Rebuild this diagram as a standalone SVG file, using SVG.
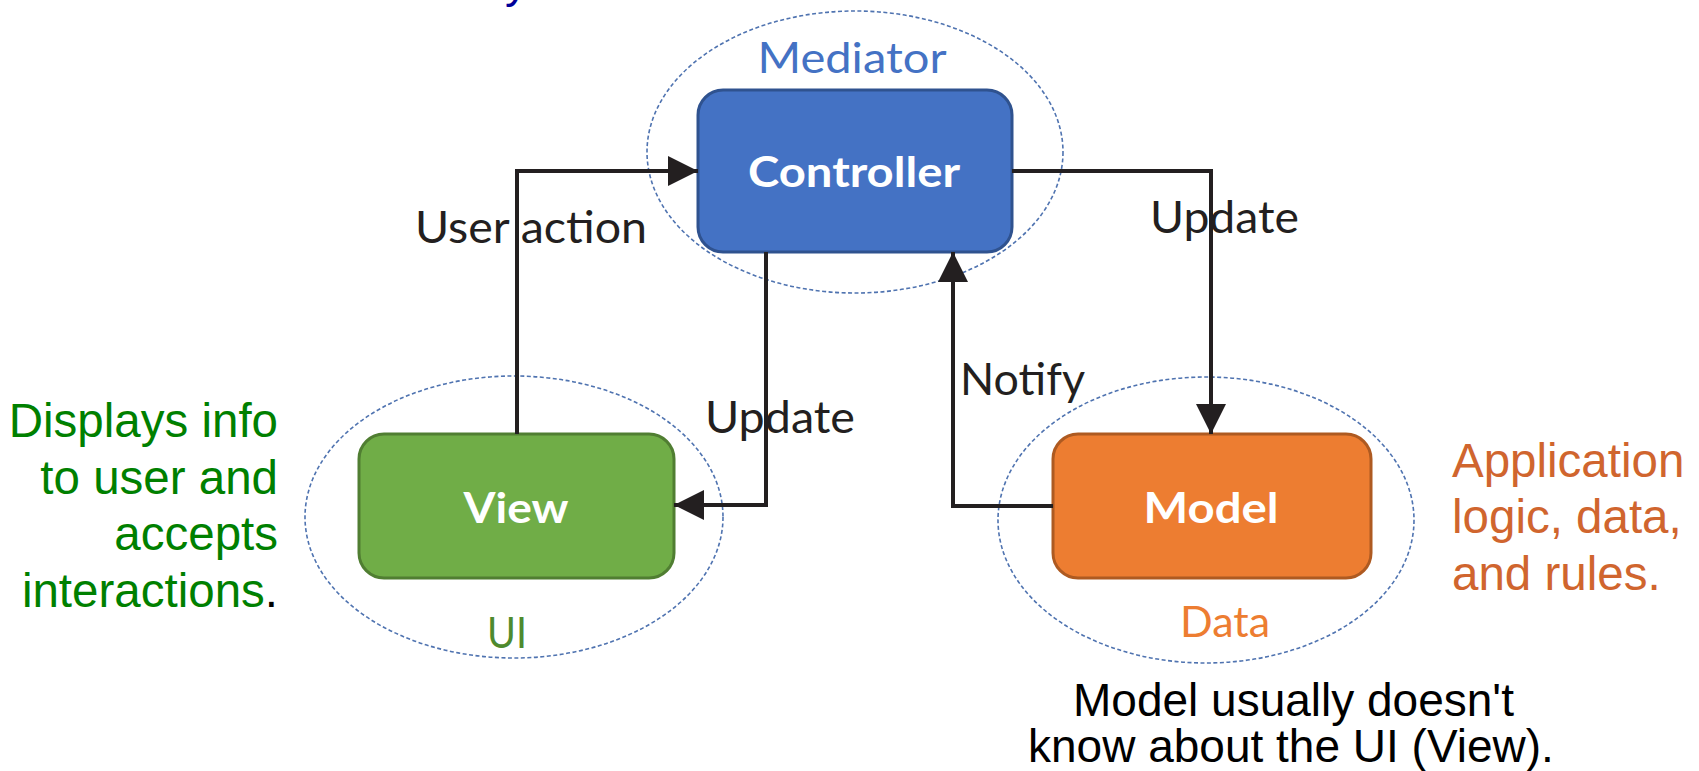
<svg xmlns="http://www.w3.org/2000/svg" width="1699" height="771" viewBox="0 0 1699 771">
  <style>
    .zone { fill: none; stroke: #4F73B0; stroke-width: 1.6; stroke-dasharray: 4 2.5; }
    .zlabel { font-family: Lato, "Open Sans", sans-serif; font-size: 42px; text-anchor: middle; }
    .box { stroke-width: 3; }
    .blabel { font-family: Lato, "Open Sans", sans-serif; font-weight: bold; font-size: 42px; fill: #FFFFFF; text-anchor: middle; }
    .conn { fill: none; stroke: #231F20; stroke-width: 4; marker-end: url(#arrow); }
    .clabel { font-family: Lato, "Open Sans", sans-serif; font-size: 44px; fill: #231F20; }
    .note { font-family: "Liberation Sans", Arial, sans-serif; font-size: 46px; }
    .side { font-size: 47.5px; }
  </style>
  <defs>
    <marker id="arrow" markerUnits="userSpaceOnUse" markerWidth="30" markerHeight="30" refX="30" refY="15" orient="auto" viewBox="0 0 30 30">
      <path d="M0,0 L30,15 L0,30 z" fill="#231F20"/>
    </marker>
  </defs>
  <rect x="0" y="0" width="1699" height="771" fill="#FFFFFF"/>

  <text class="note" x="505" y="-3" fill="#000099">y</text>

  <g id="mediator-zone">
    <ellipse class="zone" cx="855" cy="152" rx="208" ry="141"/>
    <text class="zlabel" x="852" y="73" fill="#4472C4" textLength="189" lengthAdjust="spacingAndGlyphs">Mediator</text>
  </g>
  <g id="ui-zone">
    <ellipse class="zone" cx="514" cy="517" rx="209" ry="141"/>
    <text class="zlabel" x="507" y="648" fill="#4E8A2E" textLength="40" lengthAdjust="spacingAndGlyphs">UI</text>
  </g>
  <g id="data-zone">
    <ellipse class="zone" cx="1206" cy="520" rx="208" ry="143"/>
    <text class="zlabel" x="1225" y="637" fill="#ED7D31" textLength="90" lengthAdjust="spacingAndGlyphs">Data</text>
  </g>

  <g id="controller">
    <rect class="box" x="698" y="90" width="314" height="162" rx="25" ry="25" fill="#4472C4" stroke="#2F528F"/>
    <text class="blabel" x="854" y="187" textLength="212" lengthAdjust="spacingAndGlyphs">Controller</text>
  </g>
  <g id="view">
    <rect class="box" x="359" y="434" width="315" height="144" rx="25" ry="25" fill="#70AD47" stroke="#507E32"/>
    <text class="blabel" x="516" y="523" textLength="105" lengthAdjust="spacingAndGlyphs">View</text>
  </g>
  <g id="model">
    <rect class="box" x="1053" y="434" width="318" height="144" rx="25" ry="25" fill="#ED7D31" stroke="#AE5A21"/>
    <text class="blabel" x="1211" y="523" textLength="135" lengthAdjust="spacingAndGlyphs">Model</text>
  </g>

  <g id="connectors">
    <path class="conn" d="M517,434 V171 H698"/>
    <path class="conn" d="M766,252 V505 H674"/>
    <path class="conn" d="M1053,506 H953 V252"/>
    <path class="conn" d="M1012,171 H1211 V434"/>
    <text class="clabel" x="415" y="243" textLength="232" lengthAdjust="spacingAndGlyphs">User action</text>
    <text class="clabel" x="705" y="433" textLength="150" lengthAdjust="spacingAndGlyphs">Update</text>
    <text class="clabel" x="960" y="395" textLength="125" lengthAdjust="spacingAndGlyphs">Notify</text>
    <text class="clabel" x="1150" y="233" textLength="149" lengthAdjust="spacingAndGlyphs">Update</text>
  </g>

  <g id="view-note" class="note side" text-anchor="end" fill="#008000">
    <text x="278" y="437">Displays info</text>
    <text x="278" y="494">to user and</text>
    <text x="278" y="550">accepts</text>
    <text x="278" y="607">interactions<tspan fill="#000000">.</tspan></text>
  </g>
  <g id="model-note" class="note side" fill="#D0652E">
    <text x="1452" y="477">Application</text>
    <text x="1452" y="533">logic, data,</text>
    <text x="1452" y="590">and rules.</text>
  </g>
  <g id="bottom-note" class="note" fill="#000000">
    <text x="1073" y="716">Model usually doesn't</text>
    <text x="1028" y="762">know about the UI (View).</text>
  </g>
</svg>
